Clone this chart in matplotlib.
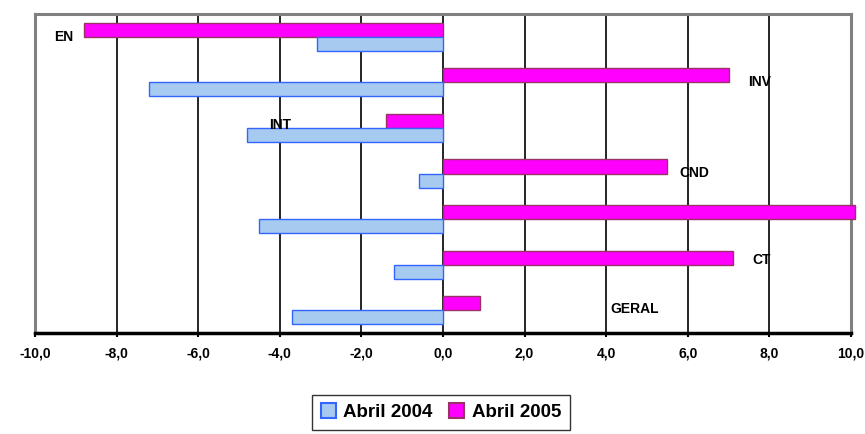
import numpy as np
import matplotlib
matplotlib.use("Agg")
import matplotlib.pyplot as plt
from matplotlib.patches import Patch

plt.rcParams['font.family'] = ['Liberation Sans', 'DejaVu Sans']

# categories top to bottom (5th label not visible in the original)
categories = ["EN", "INV", "INT", "CND", "", "CT", "GERAL"]
abr_2004 = [-3.1, -7.2, -4.8, -0.6, -4.5, -1.2, -3.7]
abr_2005 = [-8.8, 7.0, -1.4, 5.5, 10.1, 7.1, 0.9]
series_names = ["Abril 2004", "Abril 2005"]
xticks = np.arange(-10, 11, 2)
# where the category names sit (data coords)
label_pos = [(-9.3, 0.0), (7.75, 1.0), (-4.0, 1.93), (6.15, 2.98), None, (7.8, 4.89), (4.7, 5.97)]

c2004, e2004 = "#A6CAF0", "#3366FF"
c2005, e2005 = "#FF00FF", "#993366"

fig = plt.figure(figsize=(8.65, 4.34), dpi=100)
ax = fig.add_axes([35/865, 1-333/434, 816/865, 319/434])

y = np.arange(len(categories))
h = 0.31
ax.barh(y - h/2, abr_2005, height=h, color=c2005, edgecolor=e2005, lw=1.0, zorder=3, clip_on=False)
ax.barh(y + h/2, abr_2004, height=h, color=c2004, edgecolor=e2004, lw=1.0, zorder=3)

for name, pos in zip(categories, label_pos):
    if pos is None or not name:
        continue
    ax.text(pos[0], pos[1], name, ha="center", va="center", fontsize=10,
            fontweight="bold", zorder=4)

ax.set_xlim(-10, 10)
ax.set_ylim(len(categories) - 0.5, -0.5)
ax.set_xticks(xticks)
ax.set_xticklabels([f"{v:.1f}".replace(".", ",") for v in xticks], fontsize=10, fontweight="bold")
ax.set_yticks([])
ax.tick_params(axis="x", length=3, width=1.5, pad=7)
ax.grid(axis="x", color="black", lw=1.2, zorder=1)
ax.set_axisbelow(True)

for s in ["left", "top", "right"]:
    ax.spines[s].set_color("#808080")
    ax.spines[s].set_linewidth(2.2)
ax.spines["bottom"].set_color("black")
ax.spines["bottom"].set_linewidth(2.5)

handles = [Patch(facecolor=c2004, edgecolor=e2004, lw=1.5),
           Patch(facecolor=c2005, edgecolor=e2005, lw=1.5)]
leg = fig.legend(handles, series_names, loc="upper center", bbox_to_anchor=(441/865, 1-395/434),
                 ncol=2, frameon=True, fancybox=False, edgecolor="black",
                 prop={"size": 13.5, "weight": "bold"}, handlelength=0.8, handleheight=0.8,
                 handletextpad=0.4, columnspacing=0.9, borderpad=0.45, borderaxespad=0)
leg.get_frame().set_linewidth(1.0)

fig.savefig("out.png", dpi=100)
